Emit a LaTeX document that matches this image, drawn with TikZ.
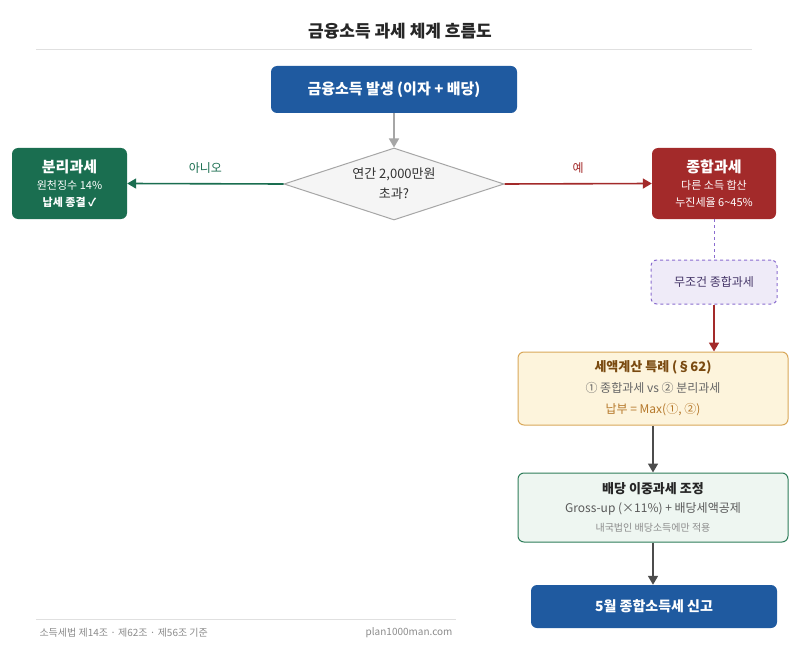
\documentclass[tikz,border=0pt]{standalone}
\usepackage{fontspec}
\setmainfont{Noto Sans CJK KR}
\usetikzlibrary{arrows.meta,shapes.geometric}
\definecolor{cblue}{HTML}{1F5AA0}
\definecolor{cgreen}{HTML}{1A6E50}
\definecolor{cred}{HTML}{A32A2A}
\definecolor{cpurp}{HTML}{8A6CCF}
\definecolor{cpurpf}{HTML}{EFEBF8}
\definecolor{cyel}{HTML}{FDF4DC}
\definecolor{cyelb}{HTML}{D9A85A}
\definecolor{cbrown}{HTML}{7A4A10}
\definecolor{corange}{HTML}{B5782A}
\definecolor{cmint}{HTML}{EEF6F1}
\definecolor{cmintb}{HTML}{2E7D5A}
\definecolor{ctext}{HTML}{333333}
\tikzset{
 box/.style={rounded corners=6pt,align=center,inner sep=0pt},
 arr/.style={line width=1.6pt,-{Triangle[length=9pt,width=10pt]}},
}
\begin{document}
\begin{tikzpicture}[x=1pt,y=-1pt,font=\fontsize{12}{15}\selectfont]
\useasboundingbox (0,0) rectangle (800,655);
\fill[white] (0,0) rectangle (800,655);
\node[font=\fontsize{17}{20}\selectfont\bfseries,text=black!85] (title) at (400,31) {금융소득 과세 체계 흐름도};
\draw[black!12] (36,49) -- (752,49);
% nodes
\node[box,fill=cblue,text=white,minimum width=246pt,minimum height=47pt,font=\fontsize{15}{18}\selectfont\bfseries] (top) at (394,89.5) {금융소득 발생 (이자 + 배당)};
\node[diamond,draw=black!35,fill=black!4,line width=1pt,minimum width=220pt,minimum height=72pt,inner sep=0pt,aspect=3,align=center,font=\fontsize{13}{20}\selectfont,text=ctext] (dia) at (394,184) {연간 2,000만원\\초과?};
\node[box,fill=cgreen,text=white,minimum width=115pt,minimum height=71pt,font=\fontsize{11}{17}\selectfont] (left) at (69.5,183.5) {{\fontsize{15}{20}\selectfont\bfseries 분리과세}\\원천징수 14\%\\\textbf{납세 종결 ✓}};
\node[box,fill=cred,text=white,minimum width=124pt,minimum height=71pt,font=\fontsize{11}{17}\selectfont] (right) at (714,183.5) {{\fontsize{15}{20}\selectfont\bfseries 종합과세}\\다른 소득 합산\\누진세율 6\textasciitilde45\%};
\node[box,draw=cpurp,dashed,line width=1pt,fill=cpurpf,text=cpurp!50!black,minimum width=126pt,minimum height=44pt] (must) at (714,282) {무조건 종합과세};
\node[box,draw=cyelb,line width=1pt,fill=cyel,minimum width=270pt,minimum height=73pt,font=\fontsize{12}{21}\selectfont] (spec) at (653,388.5) {{\color{cbrown}\fontsize{13}{21}\selectfont\bfseries 세액계산 특례 (§62)}\\{\color{black!60}① 종합과세 vs ② 분리과세}\\{\color{corange}납부 = Max(①, ②)}};
\node[box,draw=cmintb,line width=1pt,fill=cmint,minimum width=270pt,minimum height=69pt,font=\fontsize{12}{19}\selectfont] (div) at (653,507.5) {{\color{black!85}\fontsize{13}{19}\selectfont\bfseries 배당 이중과세 조정}\\{\color{black!65}Gross-up (×11\%) + 배당세액공제}\\{\color{black!45}\fontsize{10}{14}\selectfont 내국법인 배당소득에만 적용}};
\node[box,fill=cblue,text=white,minimum width=246pt,minimum height=43pt,font=\fontsize{14}{17}\selectfont\bfseries] (file) at (654,606.5) {5월 종합소득세 신고};
% connectors
\draw[arr,black!35] (top) -- (dia);
\draw[arr,cgreen] (dia.west) -- node[above=6pt,font=\fontsize{12}{14}\selectfont]{아니오} (left.east);
\draw[arr,cred] (dia.east) -- node[above=6pt,font=\fontsize{12}{14}\selectfont]{예} (right.east-|right.west);
\draw[cpurp,dashed,line width=1pt] (right) -- (must);
\draw[arr,cred] (must.south) -- (must.south|-spec.north);
\draw[arr,black!70] (spec.south-|div) -- (div);
\draw[arr,black!70] (div.south) -- (div.south|-file.north);
% footer
\draw[black!12] (36,619) -- (456,619);
\node[anchor=west,text=black!45,font=\fontsize{10}{12}\selectfont] (fl) at (36,633) {소득세법 제14조 · 제62조 · 제56조 기준};
\node[anchor=east,text=black!45,font=\fontsize{10}{12}\selectfont] (fr) at (456,633) {plan1000man.com};
\end{tikzpicture}
\end{document}
